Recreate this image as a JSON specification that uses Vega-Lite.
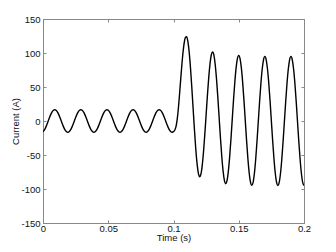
{
"$schema": "https://vega.github.io/schema/vega-lite/v6.json",
"width": 261, "height": 204,
"autosize": "none",
"padding": {"left": 43, "top": 19, "right": 32, "bottom": 29},
"background": "white",
"config": {
  "view": {"stroke": "#888888", "strokeWidth": 1},
  "axis": {"domainColor": "#888888", "tickColor": "#888888", "tickSize": -3, "grid": false, "labelFlush": false, "labelOverlap": false,
           "labelFont": "Liberation Sans", "labelFontSize": 9.5, "labelColor": "#111111",
           "titleFont": "Liberation Sans", "titleFontSize": 9.5, "titleFontWeight": "normal", "titleColor": "#111111"}
},
"data": {"values": [
{"t":0.000,"i":-15.7},{"t":0.001,"i":-13.35},{"t":0.002,"i":-9.7},{"t":0.003,"i":-5.1},{"t":0.004,"i":0},{"t":0.005,"i":5.1},{"t":0.006,"i":9.7},{"t":0.007,"i":13.35},{"t":0.008,"i":15.7},{"t":0.009,"i":16.5},
{"t":0.010,"i":15.7},{"t":0.011,"i":13.35},{"t":0.012,"i":9.7},{"t":0.013,"i":5.1},{"t":0.014,"i":0},{"t":0.015,"i":-5.1},{"t":0.016,"i":-9.7},{"t":0.017,"i":-13.35},{"t":0.018,"i":-15.7},{"t":0.019,"i":-16.5},
{"t":0.020,"i":-15.7},{"t":0.021,"i":-13.35},{"t":0.022,"i":-9.7},{"t":0.023,"i":-5.1},{"t":0.024,"i":0},{"t":0.025,"i":5.1},{"t":0.026,"i":9.7},{"t":0.027,"i":13.35},{"t":0.028,"i":15.7},{"t":0.029,"i":16.5},
{"t":0.030,"i":15.7},{"t":0.031,"i":13.35},{"t":0.032,"i":9.7},{"t":0.033,"i":5.1},{"t":0.034,"i":0},{"t":0.035,"i":-5.1},{"t":0.036,"i":-9.7},{"t":0.037,"i":-13.35},{"t":0.038,"i":-15.7},{"t":0.039,"i":-16.5},
{"t":0.040,"i":-15.7},{"t":0.041,"i":-13.35},{"t":0.042,"i":-9.7},{"t":0.043,"i":-5.1},{"t":0.044,"i":0},{"t":0.045,"i":5.1},{"t":0.046,"i":9.7},{"t":0.047,"i":13.35},{"t":0.048,"i":15.7},{"t":0.049,"i":16.5},
{"t":0.050,"i":15.7},{"t":0.051,"i":13.35},{"t":0.052,"i":9.7},{"t":0.053,"i":5.1},{"t":0.054,"i":0},{"t":0.055,"i":-5.1},{"t":0.056,"i":-9.7},{"t":0.057,"i":-13.35},{"t":0.058,"i":-15.7},{"t":0.059,"i":-16.5},
{"t":0.060,"i":-15.7},{"t":0.061,"i":-13.35},{"t":0.062,"i":-9.7},{"t":0.063,"i":-5.1},{"t":0.064,"i":0},{"t":0.065,"i":5.1},{"t":0.066,"i":9.7},{"t":0.067,"i":13.35},{"t":0.068,"i":15.7},{"t":0.069,"i":16.5},
{"t":0.070,"i":15.7},{"t":0.071,"i":13.35},{"t":0.072,"i":9.7},{"t":0.073,"i":5.1},{"t":0.074,"i":0},{"t":0.075,"i":-5.1},{"t":0.076,"i":-9.7},{"t":0.077,"i":-13.35},{"t":0.078,"i":-15.7},{"t":0.079,"i":-16.5},
{"t":0.080,"i":-15.7},{"t":0.081,"i":-13.35},{"t":0.082,"i":-9.7},{"t":0.083,"i":-5.1},{"t":0.084,"i":0},{"t":0.085,"i":5.1},{"t":0.086,"i":9.7},{"t":0.087,"i":13.35},{"t":0.088,"i":15.7},{"t":0.089,"i":16.5},
{"t":0.090,"i":15.7},{"t":0.091,"i":13.35},{"t":0.092,"i":9.7},{"t":0.093,"i":5.1},{"t":0.094,"i":0},{"t":0.095,"i":-5.1},{"t":0.096,"i":-9.7},{"t":0.097,"i":-13.35},{"t":0.098,"i":-15.7},{"t":0.099,"i":-16.5},
{"t":0.100,"i":-15.6},{"t":0.101,"i":-13.3},{"t":0.102,"i":-7.5},{"t":0.103,"i":5},{"t":0.104,"i":24.2},{"t":0.105,"i":48.4},{"t":0.106,"i":73},{"t":0.107,"i":95.2},{"t":0.108,"i":112.4},{"t":0.109,"i":122.4},
{"t":0.110,"i":123.9},{"t":0.111,"i":117.2},{"t":0.112,"i":101.6},{"t":0.113,"i":78.6},{"t":0.114,"i":50.4},{"t":0.115,"i":19.4},{"t":0.116,"i":-11.5},{"t":0.117,"i":-39.3},{"t":0.118,"i":-61.6},{"t":0.119,"i":-76.3},
{"t":0.120,"i":-82},{"t":0.121,"i":-78.3},{"t":0.122,"i":-65.6},{"t":0.123,"i":-45.2},{"t":0.124,"i":-19.5},{"t":0.125,"i":9.2},{"t":0.126,"i":38},{"t":0.127,"i":63.8},{"t":0.128,"i":84.4},{"t":0.129,"i":97.4},
{"t":0.130,"i":101.5},{"t":0.131,"i":96.4},{"t":0.132,"i":82.4},{"t":0.133,"i":60.8},{"t":0.134,"i":34},{"t":0.135,"i":4.3},{"t":0.136,"i":-25.5},{"t":0.137,"i":-52.2},{"t":0.138,"i":-73.6},{"t":0.139,"i":-87.4},
{"t":0.140,"i":-92.2},{"t":0.141,"i":-87.8},{"t":0.142,"i":-74.4},{"t":0.143,"i":-53.5},{"t":0.144,"i":-27.2},{"t":0.145,"i":2},{"t":0.146,"i":31.3},{"t":0.147,"i":57.6},{"t":0.148,"i":78.6},{"t":0.149,"i":92},
{"t":0.150,"i":96.5},{"t":0.151,"i":91.7},{"t":0.152,"i":78.1},{"t":0.153,"i":56.8},{"t":0.154,"i":30.3},{"t":0.155,"i":0.8},{"t":0.156,"i":-28.7},{"t":0.157,"i":-55.2},{"t":0.158,"i":-76.4},{"t":0.159,"i":-90},
{"t":0.160,"i":-94.7},{"t":0.161,"i":-90.4},{"t":0.162,"i":-76.9},{"t":0.163,"i":-55.8},{"t":0.164,"i":-29.4},{"t":0.165,"i":0},{"t":0.166,"i":29.4},{"t":0.167,"i":55.8},{"t":0.168,"i":76.9},{"t":0.169,"i":90.4},
{"t":0.170,"i":95},{"t":0.171,"i":90.4},{"t":0.172,"i":76.9},{"t":0.173,"i":55.8},{"t":0.174,"i":29.4},{"t":0.175,"i":0},{"t":0.176,"i":-29.4},{"t":0.177,"i":-55.8},{"t":0.178,"i":-76.9},{"t":0.179,"i":-90.4},
{"t":0.180,"i":-94.8},{"t":0.181,"i":-90.4},{"t":0.182,"i":-76.9},{"t":0.183,"i":-55.8},{"t":0.184,"i":-29.4},{"t":0.185,"i":0},{"t":0.186,"i":29.4},{"t":0.187,"i":55.8},{"t":0.188,"i":76.9},{"t":0.189,"i":90.4},
{"t":0.190,"i":95},{"t":0.191,"i":90.4},{"t":0.192,"i":76.9},{"t":0.193,"i":55.8},{"t":0.194,"i":29.4},{"t":0.195,"i":0},{"t":0.196,"i":-29.4},{"t":0.197,"i":-55.8},{"t":0.198,"i":-76.9},{"t":0.199,"i":-90.4},
{"t":0.200,"i":-94.8}
]},
"layer": [
  {
    "mark": {"type": "line", "color": "black", "strokeWidth": 1.4, "interpolate": "monotone", "clip": true},
    "encoding": {
      "x": {"field": "t", "type": "quantitative", "scale": {"domain": [0, 0.2], "nice": false},
            "axis": {"values": [0, 0.05, 0.1, 0.15, 0.2], "labelExpr": "datum.value", "title": "Time (s)", "labelPadding": 3, "titlePadding": 0}},
      "y": {"field": "i", "type": "quantitative", "scale": {"domain": [-150, 150], "nice": false},
            "axis": {"values": [-150, -100, -50, 0, 50, 100, 150], "labelExpr": "datum.value", "title": "Current (A)", "labelPadding": 6, "titlePadding": 0}}
    }
  },
  {
    "mark": {"type": "line", "opacity": 0},
    "encoding": {
      "x": {"field": "t", "type": "quantitative", "axis": {"orient": "top", "values": [0, 0.05, 0.1, 0.15, 0.2], "labels": false, "title": null}},
      "y": {"field": "i", "type": "quantitative", "axis": {"orient": "right", "values": [-150, -100, -50, 0, 50, 100, 150], "labels": false, "title": null}}
    }
  }
],
"resolve": {"axis": {"x": "independent", "y": "independent"}}
}
